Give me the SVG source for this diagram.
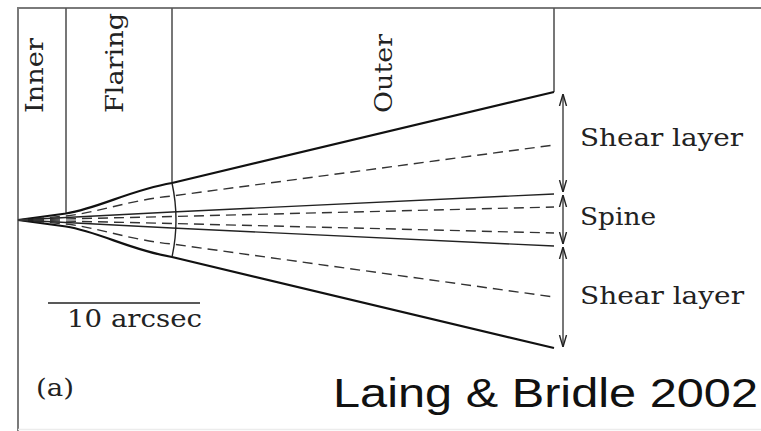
<svg xmlns="http://www.w3.org/2000/svg" width="761" height="431" viewBox="0 0 761 431">
<style>
.frame{stroke:#7a7a7a;stroke-width:2;fill:none}
.div{stroke:#555;stroke-width:1.6;fill:none}
.edge{stroke:#111;stroke-width:2.2;fill:none;stroke-linejoin:round}
.spine{stroke:#222;stroke-width:1.4;fill:none}
.dash{stroke:#333;stroke-width:1.4;fill:none;stroke-dasharray:10 6}
.arr{stroke:#555;stroke-width:1.6;fill:none;marker-start:url(#ah);marker-end:url(#ah)}
.lbl{font-family:"DejaVu Serif","Liberation Serif",serif;font-size:24px;fill:#222}
.cite{font-family:"Liberation Sans","Noto Sans",sans-serif;font-size:40px;fill:#111}
</style>
<defs>
<marker id="ah" viewBox="0 0 12 10" refX="12" refY="5" markerWidth="12" markerHeight="10" markerUnits="userSpaceOnUse" orient="auto-start-reverse">
<path d="M0,1.5 L12,5 L0,8.5" fill="none" stroke="#222" stroke-width="1.4"/>
</marker>
</defs>
<rect width="761" height="431" fill="#fff"/>
<g id="frame">
<path class="frame" d="M18,431 L18,8 L761,8"/>
<path d="M18,429.5 L761,429.5" stroke="#ececec" stroke-width="1.5"/>
<path class="div" d="M66,8 L66,213.5"/>
<path class="div" d="M172,8 L172,183"/>
<path class="div" d="M554,8 L554,92"/>
</g>
<g id="region-labels">
<text class="lbl" transform="translate(43,113) rotate(-90)" textLength="75" lengthAdjust="spacingAndGlyphs">Inner</text>
<text class="lbl" transform="translate(123,113) rotate(-90)" textLength="100" lengthAdjust="spacingAndGlyphs">Flaring</text>
<text class="lbl" transform="translate(392,113) rotate(-90)" textLength="79" lengthAdjust="spacingAndGlyphs">Outer</text>
</g>
<g id="jet">
<path class="edge" d="M18,220 L66,213.5 C100,208 130,190 172,183 L554,92"/>
<path class="edge" d="M18,220 L66,226.5 C100,232 130,250 172,257 L554,348"/>
<path class="dash" d="M18,220 L66,216 C100,212 130,200 172,196 L554,145"/>
<path class="dash" d="M18,220 L66,224 C100,228 130,240 172,244 L554,297"/>
<path class="spine" d="M18,220 L172,212 L554,194"/>
<path class="spine" d="M18,220 L172,228 L554,246"/>
<path class="dash" d="M18,220 L172,216.5 L554,207"/>
<path class="dash" d="M18,220 L172,223.5 L554,233"/>
<path class="spine" d="M172,183 Q180,220 172,257"/>
</g>
<g id="connectors">
<path class="arr" d="M563,94 L563,192"/>
<path class="arr" d="M563,195 L563,244"/>
<path class="arr" d="M563,247 L563,347"/>
</g>
<g id="layer-labels">
<text class="lbl" x="580" y="146" textLength="163" lengthAdjust="spacingAndGlyphs">Shear layer</text>
<text class="lbl" x="580" y="225" textLength="76" lengthAdjust="spacingAndGlyphs">Spine</text>
<text class="lbl" x="580" y="304" textLength="164" lengthAdjust="spacingAndGlyphs">Shear layer</text>
</g>
<g id="scale">
<path d="M48,303 L200,303" stroke="#222" stroke-width="1.6"/>
<text class="lbl" x="67" y="327" textLength="135" lengthAdjust="spacingAndGlyphs">10 arcsec</text>
</g>
<g id="panel">
<text class="lbl" x="36" y="396" textLength="38" lengthAdjust="spacingAndGlyphs">(a)</text>
</g>
<g id="citation">
<text class="cite" x="333" y="407" textLength="425" lengthAdjust="spacingAndGlyphs">Laing &amp; Bridle 2002</text>
</g>
</svg>
